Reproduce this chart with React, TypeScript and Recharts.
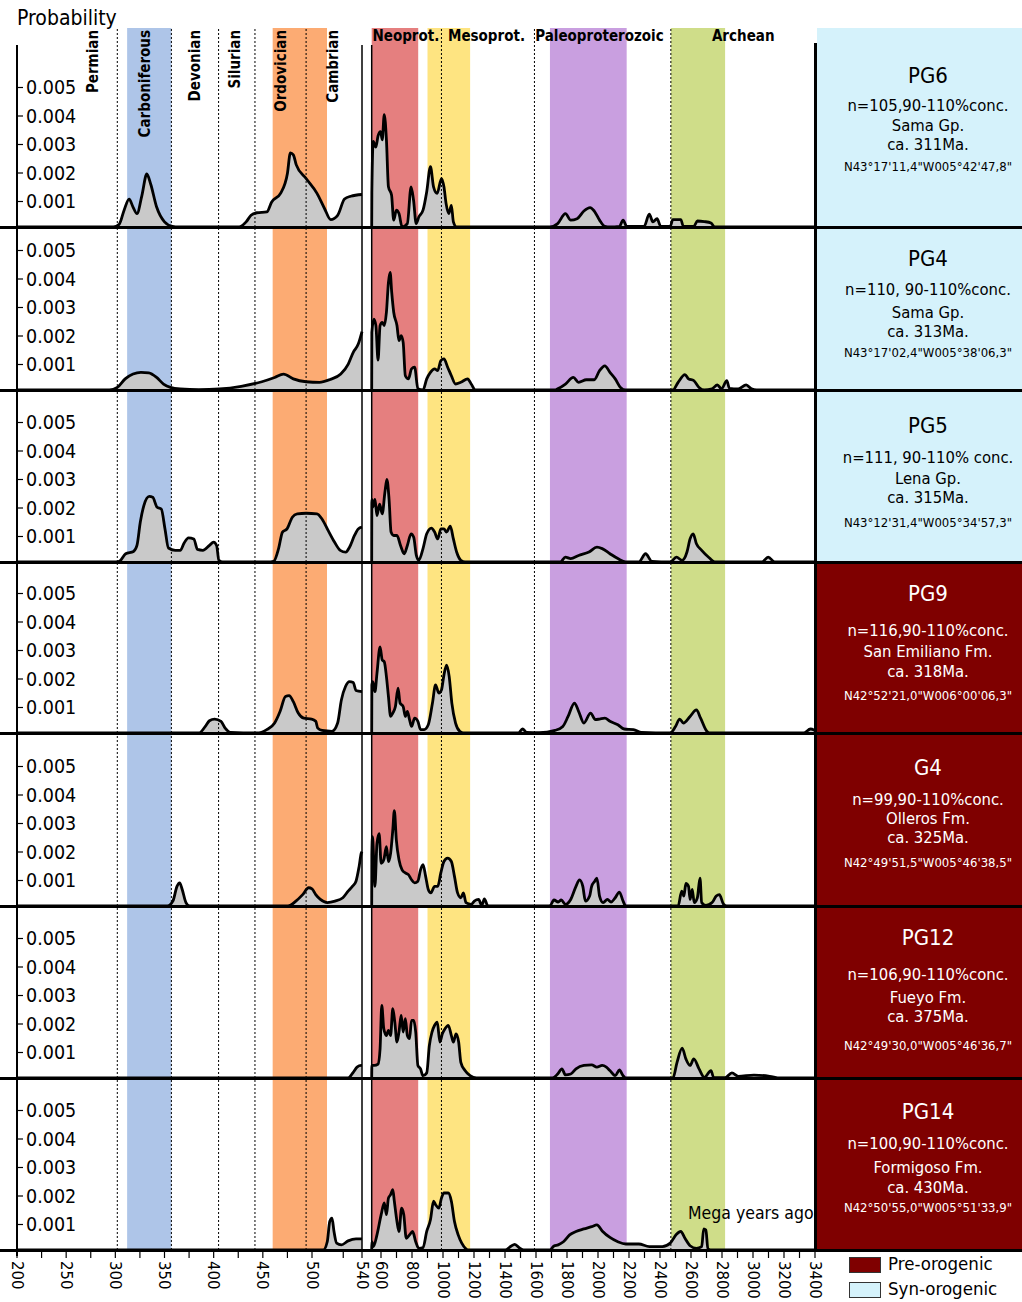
import React from 'react';
import { ComposedChart, Area, XAxis, YAxis, ReferenceArea, ReferenceLine } from 'recharts';

type Pt = [number, number];

// ---------------- Data: [age in Ma, probability] ----------------
// Left part (200–540 Ma) and right part (540–3400 Ma) of each density curve
const PG6_LEFT: Pt[] = [[200,0],[298,0],[304,0.0001],[309,0.0006],[314,0.00098],[318,0.0007],[322,0.00047],[327,0.0011],[332,0.00186],[336,0.0015],[342,0.0007],[350,0.00018],[358,0.00002],[364,0],[425,0],[428,0.00003],[433,0.00018],[438,0.00041],[444,0.0005],[454,0.00053],[459,0.00088],[468,0.00118],[475,0.00188],[478,0.0026],[481,0.00253],[484,0.00218],[494,0.0017],[504,0.00118],[510,0.00065],[515,0.00026],[520.5,0.00041],[526,0.00098],[531,0.00108],[540,0.00114]];
const PG6_RIGHT: Pt[] = [[540,0],[541,0.0012],[550,0.003],[567,0.0028],[581,0.0032],[597,0.00335],[608,0.00306],[621,0.00394],[635,0.00306],[648,0.00141],[668,0.00112],[682,0.00024],[699,0.00059],[716,0.00047],[736,0],[770,0.00012],[794,0.00141],[810,0.00094],[827,0.00012],[844,0.00035],[871,0.00059],[895,0.00124],[919,0.00212],[939,0.00141],[962,0.00118],[990,0.0017],[1006,0.00141],[1020,0.00082],[1037,0.00047],[1054,0.00076],[1067,0.00018],[1087,0],[1689,0],[1740,0.00012],[1790,0.00047],[1824,0.00024],[1865,0.00029],[1909,0.00056],[1949,0.00068],[1976,0.00056],[2010,0.00024],[2044,0.00002],[2077,0],[2138,0.00002],[2162,0.00024],[2185,0.00002],[2297,0.00002],[2331,0.00045],[2354,0.00018],[2381,0.00029],[2405,0.00002],[2466,0.00002],[2483,0.00026],[2534,0.00026],[2551,0.00002],[2618,0.00002],[2641,0.00021],[2686,0.00019],[2729,0.00014],[2753,0],[3400,0]];

const PG4_LEFT: Pt[] = [[200,0],[294,0],[302,0.00009],[310,0.00039],[318,0.00056],[326,0.00062],[334,0.0006],[342,0.00044],[349,0.00021],[356,0.00009],[366,0.000035],[385,0.00001],[406,0.000035],[428,0.00013],[449,0.00029],[462,0.00044],[471,0.00056],[481,0.00039],[494,0.00029],[506,0.00027],[514,0.00036],[523,0.00056],[529,0.00091],[533,0.00132],[537,0.00161],[540,0.00205]];
const PG4_RIGHT: Pt[] = [[540,0],[541,0.00202],[554,0.00249],[567,0.00226],[581,0.00105],[594,0.00226],[608,0.00237],[621,0.00226],[635,0.00273],[648,0.00378],[659,0.00413],[669,0.00343],[682,0.00273],[703,0.00226],[716,0.00173],[730,0.00191],[743,0.00167],[757,0.0005],[777,0.00039],[797,0.00074],[817,0.0008],[838,0.00004],[871,0],[895,0.00039],[919,0.00062],[946,0.00074],[966,0.00068],[986,0.00103],[1006,0.00109],[1030,0.0008],[1054,0.0005],[1081,0.00021],[1115,0.00027],[1159,0.00039],[1182,0.00021],[1209,0],[1723,0],[1740,0.00004],[1790,0.00021],[1841,0.00044],[1875,0.00027],[1925,0.00036],[1976,0.00036],[2010,0.00068],[2044,0.00085],[2077,0.00062],[2111,0.00039],[2145,0.00009],[2179,0],[2483,0],[2517,0.00027],[2561,0.00054],[2584,0.00039],[2618,0.00033],[2652,0.00009],[2686,0],[2736,0.00004],[2770,0.00018],[2797,0.00004],[2831,0.00033],[2848,0.00006],[2905,0.00004],[2956,0.00018],[2990,0.00004],[3023,0],[3400,0]];

const PG5_LEFT: Pt[] = [[200,0],[300,0],[304,0.00002],[310.5,0.00029],[318.5,0.00037],[322,0.00058],[325.4,0.0014],[329,0.00198],[334.5,0.0023],[338,0.00227],[342.5,0.00192],[346.7,0.00186],[350.5,0.00116],[354,0.00049],[361,0.00041],[366,0.00041],[370,0.00067],[374.4,0.00085],[379.8,0.00081],[383.5,0.00044],[389,0.00041],[395.7,0.00058],[400,0.0007],[403,0.00058],[405.3,0.00006],[409,0],[458,0],[461,0.00002],[466,0.00047],[470,0.00105],[474.6,0.00116],[480,0.00157],[485,0.00169],[494,0.00171],[504,0.00169],[508,0.00151],[513,0.0011],[518,0.0007],[522.6,0.00041],[527,0.00035],[530,0.00052],[534,0.00093],[537,0.00116],[540,0.00122]];
const PG5_RIGHT: Pt[] = [[540,0],[541,0.0022],[547,0.00192],[561,0.0022],[574,0.00163],[591,0.00203],[608,0.00169],[625,0.00244],[638,0.0029],[652,0.0022],[665,0.00105],[682,0.00093],[703,0.00093],[726,0.00058],[750,0.00029],[770,0.00058],[794,0.00099],[811,0.00087],[828,0.00023],[844,0.00006],[871,0.00047],[895,0.00099],[925,0.00119],[946,0.00105],[966,0.00081],[986,0.00116],[1006,0.00116],[1023,0.00105],[1047,0.00126],[1067,0.00081],[1088,0.00035],[1115,0.00006],[1142,0],[1756,0],[1790,0.00017],[1824,0.00012],[1875,0.00023],[1942,0.00035],[1993,0.00052],[2027,0.00047],[2077,0.00029],[2128,0.00012],[2179,0],[2263,0],[2307,0.00029],[2348,0.00002],[2466,0],[2506,0.00017],[2543,0.00006],[2574,0.00035],[2594,0.00081],[2614,0.00099],[2635,0.00064],[2669,0.00041],[2719,0.00014],[2753,0],[3057,0],[3098,0.00017],[3141,0],[3400,0]];

const PG9_LEFT: Pt[] = [[200,0],[385,0],[391.5,0.00023],[395.7,0.00043],[401,0.00049],[407.5,0.00041],[411.7,0.00017],[417,0.00002],[444,0],[454,0.00012],[462,0.00035],[467.6,0.00076],[473,0.00128],[476.7,0.00131],[481,0.0011],[486,0.0007],[491.6,0.00052],[499.6,0.00049],[503,0.00041],[504.6,0.00017],[508,0.00009],[516,0.00006],[520.5,0.00035],[523.5,0.00116],[526.8,0.00163],[530,0.0018],[533,0.00177],[535.2,0.00149],[540,0.00145]];
const PG9_RIGHT: Pt[] = [[540,0],[541,0.00169],[547,0.0018],[561,0.00145],[574,0.00209],[594,0.00302],[608,0.00256],[621,0.0025],[635,0.00198],[648,0.00128],[662,0.00058],[676,0.0007],[693,0.00093],[710,0.00157],[723,0.00105],[743,0.00093],[757,0.00058],[770,0.00076],[784,0.00047],[797,0.00023],[817,0.00052],[838,0.00041],[855,0.00012],[878,0.00012],[905,0.00029],[932,0.00105],[952,0.00169],[973,0.0014],[990,0.00151],[1006,0.00203],[1023,0.00238],[1040,0.00198],[1057,0.00105],[1081,0.00035],[1108,0.00006],[1132,0],[1486,0],[1513,0.00014],[1540,0.00002],[1621,0.00001],[1723,0.00009],[1773,0.00023],[1807,0.00058],[1848,0.00105],[1875,0.00076],[1909,0.00035],[1952,0.0007],[1983,0.00047],[2010,0.00049],[2044,0.00052],[2077,0.00041],[2128,0.00029],[2169,0.00014],[2229,0.00012],[2280,0.00002],[2466,0],[2500,0.00023],[2527,0.00049],[2551,0.00035],[2594,0.00058],[2635,0.00081],[2662,0.00052],[2702,0.00006],[2719,0],[3327,0],[3371,0.00014],[3400,0.00009]];

const G4_LEFT: Pt[] = [[200,0],[353,0],[358.5,0.00017],[362.7,0.00069],[365.4,0.00081],[368,0.00058],[371.8,0.00012],[375.5,0],[475.6,0],[483.6,0.00017],[490.5,0.0004],[496.6,0.00064],[500,0.0006],[503,0.0004],[506.7,0.00023],[512.2,0.00012],[518.4,0.00017],[524.7,0.00029],[528.9,0.00052],[532.3,0.00069],[535.2,0.00087],[537.7,0.00139],[539.4,0.00185],[540,0.00191]];
const G4_RIGHT: Pt[] = [[540,0],[541,0.00179],[545,0.00243],[554,0.0015],[561,0.00069],[574,0.0022],[588,0.00254],[601,0.0015],[618,0.00162],[635,0.00208],[648,0.00156],[662,0.00185],[676,0.00266],[686,0.00335],[699,0.00231],[716,0.00162],[736,0.00127],[757,0.00116],[777,0.0011],[797,0.00092],[817,0.00081],[838,0.00087],[855,0.00127],[871,0.00145],[888,0.00104],[905,0.00058],[922,0.00046],[946,0.00069],[966,0.00069],[986,0.00116],[1006,0.00156],[1030,0.00168],[1054,0.00156],[1074,0.00104],[1094,0.00046],[1115,0.00029],[1132,0.00046],[1148,0.00012],[1182,0.00006],[1202,0.00017],[1230,0.00023],[1250,0.00002],[1267,0.00025],[1290,0],[1689,0],[1716,0.00021],[1743,0.00014],[1763,0.00021],[1790,0.00006],[1824,0.00023],[1858,0.00069],[1881,0.00092],[1902,0.00069],[1919,0.00017],[1946,0.00035],[1959,0.00069],[1979,0.00087],[1993,0.00098],[2010,0.00035],[2033,0.00012],[2061,0.00023],[2084,0.00014],[2111,0.00029],[2138,0.00049],[2162,0.00017],[2179,0],[2517,0],[2540,0.00052],[2554,0.00035],[2567,0.00079],[2584,0.00069],[2594,0.00023],[2608,0.00058],[2621,0.00012],[2641,0.00029],[2658,0.00098],[2669,0.00012],[2696,0.00002],[2736,0.00012],[2763,0.00035],[2783,0.0004],[2810,0.00006],[2830,0],[3400,0]];

const PG12_LEFT: Pt[] = [[200,0],[528.9,0],[533,0.0002],[536,0.00038],[539.4,0.00044],[540,0.00044]];
const PG12_RIGHT: Pt[] = [[540,0],[541,0.00044],[557,0.00044],[581,0.00049],[594,0.00102],[605,0.00255],[618,0.00173],[635,0.00149],[648,0.00167],[662,0.00149],[676,0.00243],[689,0.00196],[703,0.00126],[716,0.00161],[730,0.0022],[743,0.00161],[757,0.00208],[770,0.00149],[784,0.00138],[797,0.00202],[811,0.00202],[824,0.00161],[838,0.00044],[855,0.00032],[871,0.00008],[895,0.00018],[912,0.00114],[929,0.00161],[946,0.00185],[963,0.00196],[980,0.00126],[996,0.00155],[1013,0.00173],[1034,0.00185],[1054,0.00149],[1067,0.00126],[1084,0.00155],[1101,0.00126],[1115,0.00055],[1142,0.00026],[1175,0.00008],[1216,0],[1706,0],[1740,0.00014],[1767,0.00032],[1790,0.00011],[1824,0.00014],[1858,0.00032],[1909,0.00044],[1959,0.00046],[1993,0.00038],[2027,0.00044],[2054,0.00038],[2077,0.00026],[2111,0.00008],[2138,0.00028],[2162,0.00008],[2179,0],[2483,0],[2510,0.00055],[2543,0.00105],[2567,0.00067],[2594,0.00044],[2618,0.00067],[2652,0.00032],[2686,0.00002],[2729,0.00026],[2746,0.00002],[2820,0.00001],[2864,0.00018],[2905,0.00006],[3006,0.0001],[3108,0.00006],[3175,0],[3400,0]];

const PG14_LEFT: Pt[] = [[200,0],[509,0],[512.2,0.00029],[514.2,0.001],[516,0.00112],[517.6,0.00065],[519.7,0.00024],[523.5,0.00018],[528.9,0.00032],[535.2,0.00039],[540,0.00039]];
const PG14_RIGHT: Pt[] = [[540,0],[541,0.00029],[551,0.00012],[574,0.00053],[601,0.00124],[621,0.00165],[635,0.00124],[648,0.00182],[662,0.00194],[676,0.00212],[686,0.00171],[703,0.001],[716,0.00065],[733,0.00147],[747,0.00124],[763,0.00041],[784,0.00053],[804,0.00065],[824,0.00029],[844,0.00006],[871,0.00008],[895,0.00065],[919,0.00106],[939,0.00171],[952,0.00159],[973,0.00147],[990,0.00182],[1006,0.002],[1034,0.002],[1054,0.00171],[1074,0.001],[1098,0.00053],[1121,0.00024],[1148,0.00004],[1165,0],[1402,0],[1436,0.00012],[1463,0.0002],[1496,0.00006],[1520,0],[1689,0],[1716,0.00014],[1743,0.00018],[1777,0.00029],[1817,0.00053],[1858,0.00065],[1909,0.00074],[1959,0.00082],[1993,0.00088],[2027,0.00067],[2077,0.00044],[2128,0.00029],[2179,0.00021],[2263,0.00021],[2331,0.00012],[2415,0.00012],[2466,0.00024],[2506,0.00055],[2534,0.00065],[2561,0.00041],[2594,0.00015],[2635,0.00006],[2669,0.00012],[2682,0.00074],[2696,0.0007],[2709,0.00004],[2736,0],[3400,0]];

// Sample descriptions
const SAMPLE_NAMES = ['PG6', 'PG4', 'PG5', 'PG9', 'G4', 'PG12', 'PG14'];
const SAMPLE_N = ['n=105,90-110%conc.', 'n=110, 90-110%conc.', 'n=111, 90-110% conc.', 'n=116,90-110%conc.', 'n=99,90-110%conc.', 'n=106,90-110%conc.', 'n=100,90-110%conc.'];
const SAMPLE_UNITS = ['Sama Gp.', 'Sama Gp.', 'Lena Gp.', 'San Emiliano Fm.', 'Olleros Fm.', 'Fueyo Fm.', 'Formigoso Fm.'];
const SAMPLE_AGES = ['ca. 311Ma.', 'ca. 313Ma.', 'ca. 315Ma.', 'ca. 318Ma.', 'ca. 325Ma.', 'ca. 375Ma.', 'ca. 430Ma.'];
const SAMPLE_COORDS = [`N43°17'11,4"W005°42'47,8"`, `N43°17'02,4"W005°38'06,3"`, `N43°12'31,4"W005°34'57,3"`, `N42°52'21,0"W006°00'06,3"`, `N42°49'51,5"W005°46'38,5"`, `N42°49'30,0"W005°46'36,7"`, `N42°50'55,0"W005°51'33,9"`];
const SAMPLE_GROUP = ['syn', 'syn', 'syn', 'pre', 'pre', 'pre', 'pre'];
const SAMPLE_LEFT = [PG6_LEFT, PG4_LEFT, PG5_LEFT, PG9_LEFT, G4_LEFT, PG12_LEFT, PG14_LEFT];
const SAMPLE_RIGHT = [PG6_RIGHT, PG4_RIGHT, PG5_RIGHT, PG9_RIGHT, G4_RIGHT, PG12_RIGHT, PG14_RIGHT];

// Axis ticks (Ma)
const LEFT_MAJOR = [200, 250, 300, 350, 400, 450, 500, 540];
const LEFT_MINOR = [225, 275, 325, 375, 425, 475, 525];
const RIGHT_MAJOR = [600, 800, 1000, 1200, 1400, 1600, 1800, 2000, 2200, 2400, 2600, 2800, 3000, 3200, 3400];
const RIGHT_MINOR = [700, 900, 1100, 1300, 1500, 1700, 1900, 2100, 2300, 2500, 2700, 2900, 3100, 3300];
const Y_TICKS = [0.001, 0.002, 0.003, 0.004, 0.005];

// Geological intervals (Ma)
const BANDS = [
  { from: 312, to: 357, side: 'L', color: '#aec5e8' },
  { from: 460, to: 512, side: 'L', color: '#fcab73' },
  { from: 540, to: 840, side: 'R', color: '#e57f7f' },
  { from: 900, to: 1175, side: 'R', color: '#fee481' },
  { from: 1690, to: 2185, side: 'R', color: '#c99fe0' },
  { from: 2470, to: 2820, side: 'R', color: '#cfdd89' },
];
const DOTTED = [
  { ma: 302, side: 'L' }, { ma: 357, side: 'L' }, { ma: 405, side: 'L' }, { ma: 442, side: 'L' }, { ma: 494, side: 'L' },
  { ma: 990, side: 'R' }, { ma: 1590, side: 'R' }, { ma: 2470, side: 'R' },
];
const PERIOD_LABELS = [
  { text: 'Permian', ma: 277, side: 'L', rotated: true },
  { text: 'Carboniferous', ma: 330, side: 'L', rotated: true },
  { text: 'Devonian', ma: 381, side: 'L', rotated: true },
  { text: 'Silurian', ma: 422, side: 'L', rotated: true },
  { text: 'Ordovician', ma: 468.5, side: 'L', rotated: true },
  { text: 'Cambrian', ma: 517, side: 'L', rotated: true },
  { text: 'Neoprot.', ma: 545, side: 'R', rotated: false },
  { text: 'Mesoprot.', ma: 1032, side: 'R', rotated: false },
  { text: 'Paleoproterozoic', ma: 1595, side: 'R', rotated: false },
  { text: 'Archean', ma: 2735, side: 'R', rotated: false },
];

// ---------------- Layout ----------------
const FONT = "'DejaVu Sans Condensed', 'DejaVu Sans', sans-serif";
const PANEL_TOPS = [28, 227, 390, 562, 733, 906, 1078];
const PANEL_BOTTOMS = [227, 390, 562, 733, 906, 1078, 1250];
const PX_PER_MILLI = 28.5;
const PLOT_LEFT = 17;
const PLOT_W = 798;
const TEXT_Y = [[76, 106, 126, 145, 167], [259, 290, 313, 332, 353], [426, 458, 479, 498, 523], [594, 631, 652, 672, 696], [768, 800, 819, 838, 863], [938, 975, 998, 1017, 1046], [1112, 1144, 1168, 1188, 1208]];
const TEXT_SIZES = [22, 16.5, 16.5, 16.5, 13];

// Broken axis: 200–540 Ma and 540–3400 Ma on different linear scales
function toU(ma: number, side: string): number {
  if (side === 'L') {
    if (ma <= 500) return (ma - 200) * (295 / 300);
    return 295 + (ma - 500) * (50 / 40);
  }
  return 354.7 + (ma - 540) * ((798 - 354.7) / 2860);
}

const TICK_DEFS = [
  ...LEFT_MAJOR.map((m) => ({ u: toU(m, 'L'), label: String(m) })),
  ...LEFT_MINOR.map((m) => ({ u: toU(m, 'L'), label: '' })),
  ...RIGHT_MAJOR.map((m) => ({ u: toU(m, 'R'), label: String(m) })),
  ...RIGHT_MINOR.map((m) => ({ u: toU(m, 'R'), label: '' })),
].sort((a, b) => a.u - b.u);
const TICK_UNITS = TICK_DEFS.map((t) => t.u);

function buildRows(left: Pt[], right: Pt[]) {
  return [
    ...left.map(([m, p]) => ({ u: toU(m, 'L'), l: p, r: null as number | null })),
    ...right.map(([m, p]) => ({ u: toU(m, 'R'), l: null as number | null, r: p })),
  ];
}

const XTick = (props: any) => {
  const { x, y, payload } = props;
  const def = TICK_DEFS.find((t) => Math.abs(t.u - payload.value) < 0.01);
  return (
    <g>
      <line x1={x} y1={y} x2={x} y2={y + 8} stroke="#000" strokeWidth={1.2} />
      {def && def.label ? (
        <text transform={`translate(${x},${y + 11}) rotate(90)`} textAnchor="start" dominantBaseline="central" fontSize={16.5} fontFamily={FONT} fill="#000">
          {def.label}
        </text>
      ) : null}
    </g>
  );
};

const YTick = (props: any) => {
  const { y, payload } = props;
  const yy = y + 3;
  return (
    <g>
      <line x1={PLOT_LEFT + 1} y1={yy} x2={PLOT_LEFT + 6} y2={yy} stroke="#000" strokeWidth={1.2} />
      <text x={PLOT_LEFT + 9} y={yy} dominantBaseline="central" textAnchor="start" fontSize={19.5} fontFamily={FONT} fill="#000">
        {Number(payload.value).toFixed(3)}
      </text>
    </g>
  );
};

const PeriodLabel = (props: any) => {
  const { viewBox, text, rotated } = props;
  const x = viewBox ? viewBox.x : 0;
  if (rotated) {
    return (
      <text transform={`translate(${x},2) rotate(-90)`} textAnchor="end" dominantBaseline="central" fontSize={15} fontWeight="bold" fontFamily={FONT} fill="#000">
        {text}
      </text>
    );
  }
  return (
    <text x={x} y={8} textAnchor="start" dominantBaseline="central" fontSize={15} fontWeight="bold" fontFamily={FONT} fill="#000">
      {text}
    </text>
  );
};

function Panel({ idx }: { idx: number }) {
  const top = PANEL_TOPS[idx];
  const H = PANEL_BOTTOMS[idx] - top;
  const isLast = idx === PANEL_TOPS.length - 1;
  const axisH = isLast ? 56 : 0;
  const extraRight = isLast ? 16 : 2;
  const yMax = H / PX_PER_MILLI / 1000;
  const breakTop = idx === 0 ? (PANEL_BOTTOMS[0] - 45) / PX_PER_MILLI / 1000 : yMax;
  const data = buildRows(SAMPLE_LEFT[idx], SAMPLE_RIGHT[idx]);
  return (
    <div style={{ position: 'absolute', left: 0, top }}>
      <ComposedChart width={PLOT_LEFT + PLOT_W + extraRight} height={H + axisH} data={data} margin={{ top: 0, right: extraRight, left: PLOT_LEFT, bottom: 0 }}>
        <XAxis
          type="number"
          dataKey="u"
          domain={[0, PLOT_W]}
          ticks={TICK_UNITS}
          interval={0}
          hide={!isLast}
          height={axisH}
          axisLine={false}
          tickLine={false}
          tickSize={0}
          tickMargin={0}
          tick={<XTick />}
          allowDataOverflow
        />
        <YAxis
          type="number"
          domain={[0, yMax]}
          ticks={Y_TICKS}
          interval={0}
          mirror
          width={60}
          axisLine={false}
          tickLine={false}
          tick={<YTick />}
          allowDataOverflow
        />
        {BANDS.map((b, i) => (
          <ReferenceArea key={`b${i}`} x1={toU(b.from, b.side)} x2={toU(b.to, b.side)} y1={0} y2={yMax} fill={b.color} fillOpacity={1} stroke="none" zIndex={-50} ifOverflow="visible" />
        ))}
        <Area type="monotone" dataKey="l" stroke="#000" strokeWidth={2.8} fill="#c9c9c9" fillOpacity={1} connectNulls={false} isAnimationActive={false} dot={false} activeDot={false} />
        <Area type="monotone" dataKey="r" stroke="#000" strokeWidth={2.8} fill="#c9c9c9" fillOpacity={1} connectNulls={false} isAnimationActive={false} dot={false} activeDot={false} />
        {DOTTED.map((d, i) => (
          <ReferenceLine key={`d${i}`} x={toU(d.ma, d.side)} stroke="#000" strokeWidth={1} strokeDasharray="2 2" />
        ))}
        <ReferenceLine segment={[{ x: toU(540, 'L'), y: 0 }, { x: toU(540, 'L'), y: breakTop }]} stroke="#000" strokeWidth={1.5} ifOverflow="visible" />
        <ReferenceLine segment={[{ x: toU(540, 'R'), y: 0 }, { x: toU(540, 'R'), y: breakTop }]} stroke="#000" strokeWidth={1.5} ifOverflow="visible" />
        {idx === 0
          ? PERIOD_LABELS.map((p, i) => (
              <ReferenceLine key={`p${i}`} x={toU(p.ma, p.side)} stroke="none" label={<PeriodLabel text={p.text} rotated={p.rotated} />} />
            ))
          : null}
      </ComposedChart>
    </div>
  );
}

function InfoBox({ idx }: { idx: number }) {
  const top = PANEL_TOPS[idx];
  const bottom = PANEL_BOTTOMS[idx];
  const syn = SAMPLE_GROUP[idx] === 'syn';
  const lines = [SAMPLE_NAMES[idx], SAMPLE_N[idx], SAMPLE_UNITS[idx], SAMPLE_AGES[idx], SAMPLE_COORDS[idx]];
  return (
    <>
      <div style={{ position: 'absolute', left: 817, top, width: 205, height: bottom - top, background: syn ? '#d5f2fb' : '#7f0000' }} />
      {lines.map((t, i) => {
        const fs = TEXT_SIZES[i];
        return (
          <div
            key={i}
            style={{
              position: 'absolute',
              left: 818,
              width: 220,
              top: TEXT_Y[idx][i] - fs * 0.6,
              height: fs * 1.2,
              lineHeight: `${fs * 1.2}px`,
              fontSize: fs,
              textAlign: 'center',
              whiteSpace: 'nowrap',
              color: syn ? '#000' : '#fff',
              fontFamily: FONT,
            }}
          >
            {t}
          </div>
        );
      })}
    </>
  );
}

export default function App() {
  const idxs = [0, 1, 2, 3, 4, 5, 6];
  return (
    <div style={{ position: 'absolute', left: 0, top: 0, width: 1022, height: 1302, background: '#fff', overflow: 'hidden', fontFamily: FONT }}>
      {idxs.map((i) => (
        <InfoBox key={`i${i}`} idx={i} />
      ))}
      {idxs.map((i) => (
        <Panel key={`p${i}`} idx={i} />
      ))}
      {/* frame lines */}
      <div style={{ position: 'absolute', left: 16, top: 45, width: 1.5, height: 1211, background: '#000' }} />
      <div style={{ position: 'absolute', left: 814, top: 43, width: 3, height: 1208, background: '#000' }} />
      {PANEL_BOTTOMS.map((b, i) => (
        <div key={`s${i}`} style={{ position: 'absolute', left: 0, top: b - 1.5, width: 1022, height: 3, background: '#000' }} />
      ))}
      <div style={{ position: 'absolute', left: 17, top: 5, fontSize: 21, lineHeight: '26px', color: '#000', fontFamily: FONT }}>Probability</div>
      <div style={{ position: 'absolute', left: 688, top: 1202, fontSize: 17.5, lineHeight: '22px', color: '#000', fontFamily: FONT, whiteSpace: 'nowrap' }}>Mega years ago</div>
      {/* legend */}
      <div style={{ position: 'absolute', left: 849, top: 1257, width: 30, height: 14, background: '#7f0000', border: '1px solid #333' }} />
      <div style={{ position: 'absolute', left: 888, top: 1253, fontSize: 18.5, lineHeight: '22px', color: '#000', fontFamily: FONT }}>Pre-orogenic</div>
      <div style={{ position: 'absolute', left: 849, top: 1282, width: 30, height: 14, background: '#d5f2fb', border: '1px solid #333' }} />
      <div style={{ position: 'absolute', left: 888, top: 1278, fontSize: 18.5, lineHeight: '22px', color: '#000', fontFamily: FONT }}>Syn-orogenic</div>
    </div>
  );
}
